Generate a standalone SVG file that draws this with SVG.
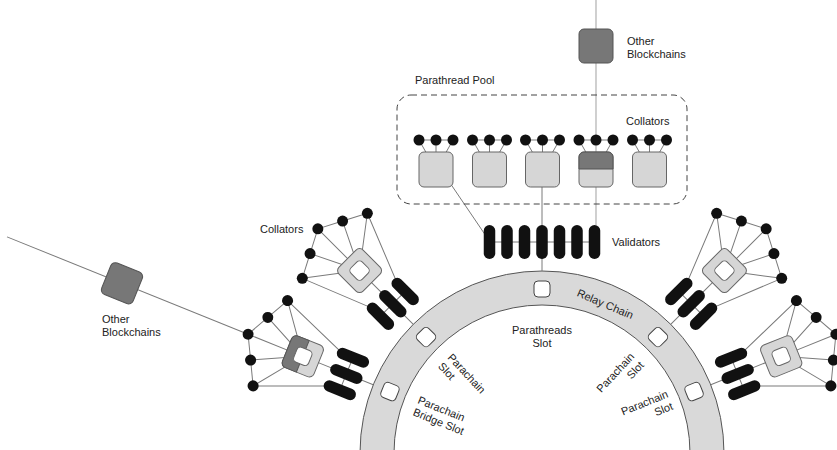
<svg xmlns="http://www.w3.org/2000/svg" xmlns:xlink="http://www.w3.org/1999/xlink" width="837" height="450" viewBox="0 0 837 450">
<style>
.ln{stroke:#7a7a7a;stroke-width:1;fill:none}
.lt{stroke:#b0b0b0;stroke-width:1.2;fill:none}
.blk{fill:#111}
.sq{fill:#d6d6d6;stroke:#666;stroke-width:1}
.hole{fill:#fff;stroke:#666;stroke-width:1}
.dark{fill:#777;stroke:#555;stroke-width:1}
.slot{fill:#fff;stroke:#444;stroke-width:1}
text{font-family:"Liberation Sans",Arial,sans-serif;font-size:11px;fill:#222}
</style>
<defs>
  <g id="tplLines">
    <polyline points="46,-293 23,-305 0,-317 -23,-305 -46,-293"/>
    <path d="M46,-293L0,-258M23,-305L0,-258M0,-317L0,-258M-23,-305L0,-258M-46,-293L0,-258"/>
    <path d="M46,-293L17.5,-222M-46,-293L-17.5,-222"/>
    <path d="M0,-258V-182M-17.5,-211H17.5"/>
  </g>
  <g id="tplPills" class="blk">
    <rect x="-23.25" y="-228" width="11.5" height="34" rx="5.75"/>
    <rect x="-5.75" y="-228" width="11.5" height="34" rx="5.75"/>
    <rect x="11.75" y="-228" width="11.5" height="34" rx="5.75"/>
  </g>
  <g id="tplDots" class="blk">
    <circle cx="46" cy="-293" r="5.5"/>
    <circle cx="23" cy="-305" r="5.5"/>
    <circle cx="0" cy="-317" r="5.5"/>
    <circle cx="-23" cy="-305" r="5.5"/>
    <circle cx="-46" cy="-293" r="5.5"/>
  </g>
  <rect id="tplSquare" class="sq" x="-17" y="-275" width="34" height="34" rx="5"/>
  <rect id="tplHole" class="hole" x="-8" y="-266" width="16" height="16" rx="4"/>
  <rect id="tplSlot" class="slot" x="-8" y="-172" width="16" height="16" rx="4"/>
</defs>

<g id="relay-chain">
  <path d="M360,453a182,182 0 1,1 364,0a182,182 0 1,1 -364,0ZM394,453a148,148 0 1,1 296,0a148,148 0 1,1 -296,0Z" fill="#d9d9d9" fill-rule="evenodd" stroke="#555" stroke-width="1"/>
  <g transform="translate(542,453)">
    <use xlink:href="#tplSlot"/>
    <use xlink:href="#tplSlot" transform="rotate(-45)"/>
    <use xlink:href="#tplSlot" transform="rotate(45)"/>
    <use xlink:href="#tplSlot" transform="rotate(-68)"/>
    <use xlink:href="#tplSlot" transform="rotate(68)"/>
  </g>
  <text transform="rotate(23 542 453)" x="542" y="295" text-anchor="middle">Relay Chain</text>
  <text x="542" y="334" text-anchor="middle">Parathreads<tspan x="542" y="347">Slot</tspan></text>
  <text transform="translate(447,358) rotate(47)">Parachain<tspan x="0" y="13">Slot</tspan></text>
  <text transform="translate(417,403) rotate(22)">Parachain<tspan x="0" y="13">Bridge Slot</tspan></text>
  <text transform="translate(635,357) rotate(-47)" text-anchor="end">Parachain<tspan x="0" y="13">Slot</tspan></text>
  <text transform="translate(669,397) rotate(-22)" text-anchor="end">Parachain<tspan x="0" y="13">Slot</tspan></text>
</g>

<g id="connectors">
  <path class="lt" d="M596,0V225"/>
  <g class="ln">
    <path d="M419,140H453M472.5,140H506.5M525.5,140H559.5M579,140H613M632.5,140H666.5"/>
    <path d="M419,140L436,170M453,140L436,170M436,140V170"/>
    <path d="M472.5,140L489.5,170M506.5,140L489.5,170M489.5,140V170"/>
    <path d="M525.5,140L542.5,170M559.5,140L542.5,170M542.5,140V170"/>
    <path d="M579,140L596,170M613,140L596,170"/>
    <path d="M632.5,140L649.5,170M666.5,140L649.5,170M649.5,140V170"/>
    <path d="M448,180L486,236"/>
    <path d="M542,185V271"/>
    <path d="M489.5,242H594.5"/>
    <g transform="translate(542,453) rotate(-45)"><use xlink:href="#tplLines"/></g>
    <g transform="translate(542,453) rotate(-68)"><use xlink:href="#tplLines"/><path d="M0,-317V-577"/></g>
    <g transform="translate(542,453) rotate(45)"><use xlink:href="#tplLines"/></g>
    <g transform="translate(542,453) rotate(68)"><use xlink:href="#tplLines"/></g>
  </g>
</g>

<g id="other-blockchains-top">
  <rect x="579" y="29" width="34" height="34" rx="5" class="dark"/>
  <text x="627" y="45">Other<tspan x="627" y="58">Blockchains</tspan></text>
</g>

<g id="other-blockchains-left">
  <g transform="translate(542,453) rotate(-68)">
    <rect x="-17" y="-470" width="34" height="34" rx="5" class="dark"/>
  </g>
  <text x="102" y="323">Other<tspan x="102" y="336">Blockchains</tspan></text>
</g>

<g id="parathread-pool">
  <rect x="397" y="95" width="290" height="109" rx="14" fill="none" stroke="#444" stroke-width="1" stroke-dasharray="6 4"/>
  <text x="415" y="84">Parathread Pool</text>
  <text x="626" y="125">Collators</text>
  <g class="sq">
    <rect x="419" y="152" width="34" height="35" rx="5"/>
    <rect x="472.5" y="152" width="34" height="35" rx="5"/>
    <rect x="525.5" y="152" width="34" height="35" rx="5"/>
    <rect x="579" y="152" width="34" height="35" rx="5"/>
    <rect x="632.5" y="152" width="34" height="35" rx="5"/>
  </g>
  <path class="dark" d="M579,169V157a5,5 0 0 1 5,-5H608a5,5 0 0 1 5,5V169Z"/>
  <g class="blk">
    <circle cx="419" cy="140" r="5.5"/><circle cx="436" cy="140" r="5.5"/><circle cx="453" cy="140" r="5.5"/>
    <circle cx="472.5" cy="140" r="5.5"/><circle cx="489.5" cy="140" r="5.5"/><circle cx="506.5" cy="140" r="5.5"/>
    <circle cx="525.5" cy="140" r="5.5"/><circle cx="542.5" cy="140" r="5.5"/><circle cx="559.5" cy="140" r="5.5"/>
    <circle cx="579" cy="140" r="5.5"/><circle cx="596" cy="140" r="5.5"/><circle cx="613" cy="140" r="5.5"/>
    <circle cx="632.5" cy="140" r="5.5"/><circle cx="649.5" cy="140" r="5.5"/><circle cx="666.5" cy="140" r="5.5"/>
  </g>
</g>

<g id="validators">
  <g class="blk">
    <rect x="483.75" y="225" width="11.5" height="34" rx="5.75"/>
    <rect x="501.25" y="225" width="11.5" height="34" rx="5.75"/>
    <rect x="518.75" y="225" width="11.5" height="34" rx="5.75"/>
    <rect x="536.25" y="225" width="11.5" height="34" rx="5.75"/>
    <rect x="553.75" y="225" width="11.5" height="34" rx="5.75"/>
    <rect x="571.25" y="225" width="11.5" height="34" rx="5.75"/>
    <rect x="588.75" y="225" width="11.5" height="34" rx="5.75"/>
  </g>
  <text x="612" y="246">Validators</text>
</g>

<g id="parachain-a" transform="translate(542,453) rotate(-45)">
  <use xlink:href="#tplPills"/>
  <use xlink:href="#tplSquare"/>
  <use xlink:href="#tplHole"/>
  <use xlink:href="#tplDots"/>
</g>
<text id="collators-label" x="260" y="233">Collators</text>

<g id="parachain-bridge" transform="translate(542,453) rotate(-68)">
  <use xlink:href="#tplPills"/>
  <use xlink:href="#tplSquare"/>
  <path class="dark" d="M-17,-258V-270a5,5 0 0 1 5,-5H12a5,5 0 0 1 5,5V-258Z"/>
  <use xlink:href="#tplHole"/>
  <use xlink:href="#tplDots"/>
</g>

<g id="parachain-c" transform="translate(542,453) rotate(45)">
  <use xlink:href="#tplPills"/>
  <use xlink:href="#tplSquare"/>
  <use xlink:href="#tplHole"/>
  <use xlink:href="#tplDots"/>
</g>

<g id="parachain-d" transform="translate(542,453) rotate(68)">
  <use xlink:href="#tplPills"/>
  <use xlink:href="#tplSquare"/>
  <use xlink:href="#tplHole"/>
  <use xlink:href="#tplDots"/>
</g>
</svg>
